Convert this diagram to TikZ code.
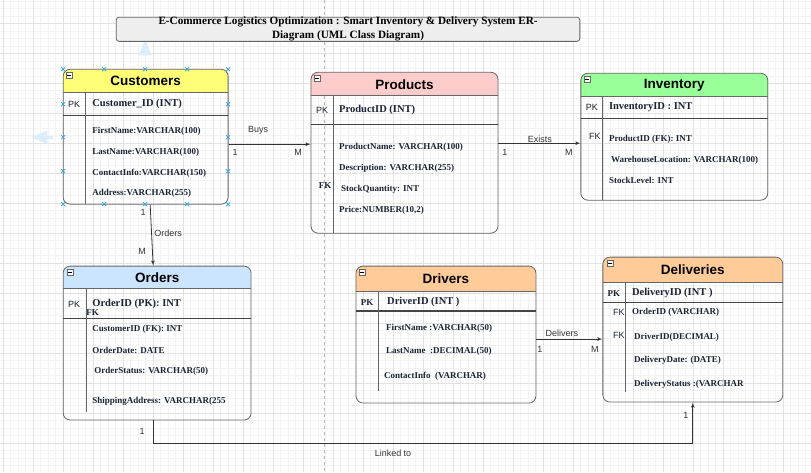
\documentclass[tikz,border=0pt]{standalone}
\usepackage{fontspec}
\setmainfont{Liberation Serif}
\setsansfont{Liberation Sans}
\usepackage{tikz}
\usepackage{xcolor}
\usetikzlibrary{arrows}
\usetikzlibrary{positioning}

\definecolor{custfill}{HTML}{FFFF77}
\definecolor{prodfill}{HTML}{FFCCCC}
\definecolor{invfill}{HTML}{99FF99}
\definecolor{ordfill}{HTML}{CCE5FF}
\definecolor{drvfill}{HTML}{FFCC99}
\definecolor{titlefill}{HTML}{EEEEEE}
\definecolor{tblline}{HTML}{666666}
\definecolor{sepline}{HTML}{444444}
\definecolor{relline}{HTML}{333333}
\definecolor{fldtext}{HTML}{1C2333}
\definecolor{lbltext}{HTML}{333333}
\definecolor{gridminor}{HTML}{F3F3F3}
\definecolor{gridmajor}{HTML}{E2E2E2}
\definecolor{handleblue}{HTML}{2AA3EA}
\definecolor{hoverblue}{HTML}{DCEEFB}

\begin{document}
\begin{tikzpicture}[x=1pt, y=-1pt,
	tbl/.style={draw=tblline, rounded corners=7pt, line width=0.8pt, inner sep=0pt},
	hdr/.style={inner sep=0pt, font=\sffamily\bfseries\fontsize{13.5}{15}\selectfont},
	fld/.style={anchor=west, inner sep=0pt, text=fldtext, font=\bfseries\fontsize{9}{10}\selectfont},
	keyfld/.style={fld, font=\bfseries\fontsize{10.5}{12}\selectfont},
	keytag/.style={inner sep=0pt, text=fldtext, font=\sffamily\fontsize{9}{10}\selectfont},
	keytagserif/.style={inner sep=0pt, text=fldtext, font=\bfseries\fontsize{9}{10}\selectfont},
	lbl/.style={inner sep=0pt, text=lbltext, font=\sffamily\fontsize{9}{10}\selectfont},
	rel/.style={-latex', draw=relline, line width=0.8pt},
	sep/.style={draw=sepline, line width=1.1pt},
	divline/.style={draw=tblline, line width=0.8pt},
	minusbox/.style={draw=tblline, fill=white, line width=0.5pt, minimum size=6pt, inner sep=0pt, font=\tiny},
	handle/.style={draw=handleblue, line width=0.7pt},
	]
	% background grid and page break
	\fill[white] (0,0) rectangle (811,472);
	\begin{scope}[shift={(3,23)}]
		\draw[gridminor, line width=0.5pt, step=7.5pt] (-3,-23) grid (808,449);
		\draw[gridmajor, line width=0.5pt, step=30pt] (-3,-23) grid (808,449);
	\end{scope}
	\draw[dashed, draw=black!30, line width=0.6pt] (324,0) -- (324,472);
	\useasboundingbox (0,0) rectangle (811,472);

	% hover arrows
	\draw[-triangle 45, draw=hoverblue, line width=2.8pt] (145,51) -- (145,39);
	\draw[-triangle 45, draw=hoverblue, line width=2.8pt] (53,137) -- (31,137);

	% title
	\node[draw=tblline, fill=titlefill, rounded corners=3pt, line width=0.8pt, minimum width=464pt, minimum height=24pt, inner sep=0pt, align=center, font=\bfseries\fontsize{11.2}{14}\selectfont] (title) at (348,29) {E-Commerce Logistics Optimization : Smart Inventory \& Delivery System ER-\\Diagram (UML Class Diagram)};

	% header fills
	\fill[custfill, rounded corners=7pt] (63,69) rectangle (228,92);
	\fill[custfill] (63,80) rectangle (228,92);
	\fill[prodfill, rounded corners=7pt] (311,72) rectangle (498,95);
	\fill[prodfill] (311,83) rectangle (498,95);
	\fill[invfill, rounded corners=7pt] (581,73) rectangle (768,96);
	\fill[invfill] (581,84) rectangle (768,96);
	\fill[ordfill, rounded corners=7pt] (63,266) rectangle (251,288);
	\fill[ordfill] (63,277) rectangle (251,288);
	\fill[drvfill, rounded corners=7pt] (356,266) rectangle (536,291);
	\fill[drvfill] (356,278) rectangle (536,291);
	\fill[drvfill, rounded corners=7pt] (603,257) rectangle (783,282);
	\fill[drvfill] (603,269) rectangle (783,282);

	% tables
	\node[tbl, minimum width=165pt, minimum height=135pt] (customers) at (145.5,136.5) {};
	\node[tbl, minimum width=187pt, minimum height=161pt] (products) at (404.5,152.5) {};
	\node[tbl, minimum width=187pt, minimum height=127pt] (inventory) at (674.5,136.5) {};
	\node[tbl, minimum width=188pt, minimum height=154pt] (orders) at (157,343) {};
	\node[tbl, minimum width=180pt, minimum height=137pt] (drivers) at (446,334.5) {};
	\node[tbl, minimum width=180pt, minimum height=145pt] (deliveries) at (693,329.5) {};

	% header and key separators, key columns
	\draw[tblline, line width=0.8pt] (63,92) -- (228,92);
	\draw[sep] (63,115) -- (228,115);
	\draw[divline] (85,92) -- (85,204);
	\draw[tblline, line width=0.8pt] (311,95) -- (498,95);
	\draw[sep] (311,124) -- (498,124);
	\draw[divline] (333,95) -- (333,233);
	\draw[tblline, line width=0.8pt] (581,96) -- (768,96);
	\draw[sep] (581,118) -- (768,118);
	\draw[divline] (603,96) -- (603,200);
	\draw[tblline, line width=0.8pt] (63,288) -- (251,288);
	\draw[sep] (63,318) -- (251,318);
	\draw[divline] (86,288) -- (86,412);
	\draw[tblline, line width=0.8pt] (356,291) -- (536,291);
	\draw[sep, line width=1.6pt] (356,311) -- (536,311);
	\draw[divline] (378,291) -- (378,391);
	\draw[tblline, line width=0.8pt] (603,282) -- (783,282);
	\draw[sep] (603,302) -- (783,302);
	\draw[divline] (626,282) -- (626,392);

	% collapse boxes
	\node[minusbox] (custMin) at (69,75) {\rule{3.5pt}{0.5pt}};
	\node[minusbox] (prodMin) at (317,78) {\rule{3.5pt}{0.5pt}};
	\node[minusbox] (invMin) at (587,79) {\rule{3.5pt}{0.5pt}};
	\node[minusbox] (ordMin) at (70,272) {\rule{3.5pt}{0.5pt}};
	\node[minusbox] (drvMin) at (362,272) {\rule{3.5pt}{0.5pt}};
	\node[minusbox] (delMin) at (610,263) {\rule{3.5pt}{0.5pt}};

	% Customers
	\node[hdr] (custT) at (145.5,81) {Customers};
	\node[keytag] (custPK) at (74,104) {PK};
	\node[keyfld] (custID) at (92,104) {Customer\_ID (INT)};
	\node[fld] (custF1) at (92,131) {FirstName:VARCHAR(100)};
	\node[fld] (custF2) at (92,152) {LastName:VARCHAR(100)};
	\node[fld] (custF3) at (92,173) {ContactInfo:VARCHAR(150)};
	\node[fld] (custF4) at (92,193) {Address:VARCHAR(255)};

	% Products
	\node[hdr] (prodT) at (404.5,84) {Products};
	\node[keytag] (prodPK) at (322,110) {PK};
	\node[keyfld] (prodID) at (339,110) {ProductID (INT)};
	\node[fld] (prodF1) at (339,147) {ProductName: VARCHAR(100)};
	\node[fld] (prodF2) at (339,168) {Description: VARCHAR(255)};
	\node[fld] (prodF3) at (341,189) {StockQuantity: INT};
	\node[fld] (prodF4) at (339,210) {Price:NUMBER(10,2)};
	\node[keytagserif] (prodFK) at (325,185) {FK};

	% Inventory
	\node[hdr] (invT) at (674.5,85) {Inventory};
	\node[keytag] (invPK) at (592,107) {PK};
	\node[keyfld] (invID) at (609,107) {InventoryID : INT};
	\node[keytag] (invFK) at (595,136) {FK};
	\node[fld] (invF1) at (609,139) {ProductID (FK): INT};
	\node[fld] (invF2) at (611,160) {WarehouseLocation: VARCHAR(100)};
	\node[fld] (invF3) at (609,180) {StockLevel: INT};

	% Orders
	\node[hdr] (ordT) at (157,278) {Orders};
	\node[keytag] (ordPK) at (74,304) {PK};
	\node[keyfld] (ordID) at (92,304) {OrderID (PK): INT};
	\node[keytagserif] (ordFK) at (92.5,312) {FK};
	\node[fld] (ordF1) at (92,329) {CustomerID (FK): INT};
	\node[fld] (ordF2) at (92,350) {OrderDate: DATE};
	\node[fld] (ordF3) at (94,371) {OrderStatus: VARCHAR(50)};
	\node[fld] (ordF4) at (92,401) {ShippingAddress: VARCHAR(255};

	% Drivers
	\node[hdr] (drvT) at (446,279) {Drivers};
	\node[keytagserif] (drvPK) at (367,302) {PK};
	\node[keyfld] (drvID) at (387,302) {DriverID (INT )};
	\node[fld] (drvF1) at (386,328) {FirstName :VARCHAR(50)};
	\node[fld] (drvF2) at (386,351) {LastName\ \ :DECIMAL(50)};
	\node[fld] (drvF3) at (384,376) {ContactInfo\ \ (VARCHAR)};

	% Deliveries
	\node[hdr] (delT) at (693,270) {Deliveries};
	\node[keytagserif] (delPK) at (614,293) {PK};
	\node[keyfld] (delID) at (632,293) {DeliveryID (INT )};
	\node[keytag] (delFK1) at (619,312) {FK};
	\node[keytag] (delFK2) at (619,335) {FK};
	\node[fld] (delF1) at (632,312) {OrderID (VARCHAR)};
	\node[fld] (delF2) at (634,337) {DriverID(DECIMAL)};
	\node[fld] (delF3) at (634,360) {DeliveryDate: (DATE)};
	\node[fld] (delF4) at (634,384) {DeliveryStatus :(VARCHAR};

	% relations
	\draw[rel] ([yshift=-7.5pt]customers.east) -- ([yshift=-7.5pt]customers.east -| products.west);
	\node[lbl] (buysL) at (258,130) {Buys};
	\node[lbl] (buys1) at (235,152) {1};
	\node[lbl] (buysM) at (298,152) {M};

	\draw[rel] ([xshift=4.5pt]customers.south) -- ([xshift=-4pt]orders.north);
	\node[lbl] (ord1) at (143,212) {1};
	\node[lbl] (ordL) at (168,233) {Orders};
	\node[lbl] (ordM) at (142,251) {M};

	\draw[rel] ([yshift=9.5pt]products.east) -- ([yshift=9.5pt]products.east -| inventory.west);
	\node[lbl] (exL) at (540,139) {Exists};
	\node[lbl] (ex1) at (505,152) {1};
	\node[lbl] (exM) at (569,152) {M};

	\draw[rel] ([yshift=-4.5pt]drivers.east) -- ([yshift=-4.5pt]drivers.east -| deliveries.west);
	\node[lbl] (dvL) at (562,333) {Delivers};
	\node[lbl] (dv1) at (540,349) {1};
	\node[lbl] (dvM) at (595,349) {M};

	\draw[rel] ([xshift=-4pt]orders.south) -- ++(0,23) -| (deliveries.south);
	\node[lbl] (lkL) at (393,453) {Linked to};
	\node[lbl] (lk1) at (142,431) {1};
	\node[lbl] (lk2) at (686,415) {1};

	% selection handles
	\foreach \hx in {63,104,145,187,228} {
		\draw[handle] (\hx,69) +(-2,-2) -- +(2,2) +(-2,2) -- +(2,-2);
		\draw[handle] (\hx,204) +(-2,-2) -- +(2,2) +(-2,2) -- +(2,-2);
	}
	\foreach \hy in {104,137,171} {
		\draw[handle] (63,\hy) +(-2,-2) -- +(2,2) +(-2,2) -- +(2,-2);
		\draw[handle] (228,\hy) +(-2,-2) -- +(2,2) +(-2,2) -- +(2,-2);
	}
\end{tikzpicture}
\end{document}
